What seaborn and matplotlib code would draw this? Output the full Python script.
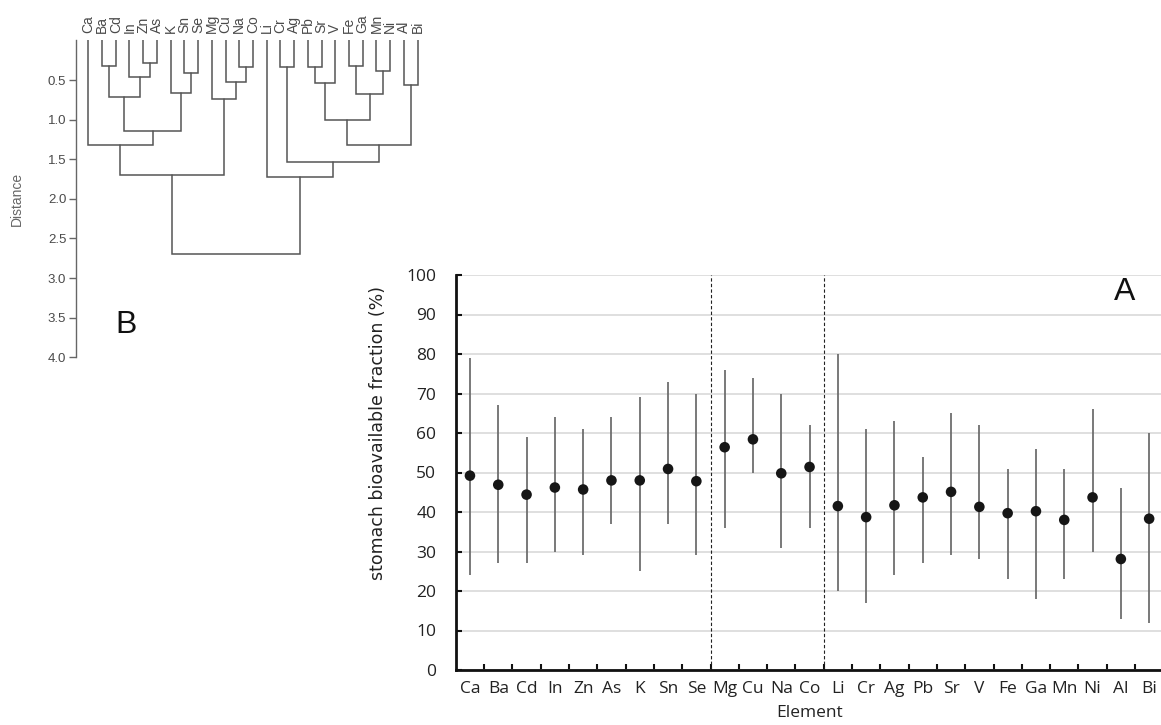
import numpy as np
import pandas as pd
import seaborn as sns
import matplotlib.pyplot as plt
from matplotlib.ticker import FixedLocator

# Panel A data: median and range of stomach bioavailable fraction (%)
elements = ["Ca", "Ba", "Cd", "In", "Zn", "As", "K", "Sn", "Se",
            "Mg", "Cu", "Na", "Co",
            "Li", "Cr", "Ag", "Pb", "Sr", "V", "Fe", "Ga", "Mn", "Ni", "Al", "Bi"]
centre = [49.2, 46.9, 44.4, 46.2, 45.7, 48.0, 48.0, 50.9, 47.8,
          56.4, 58.4, 49.8, 51.4,
          41.5, 38.7, 41.7, 43.7, 45.1, 41.3, 39.7, 40.2, 38.0, 43.7, 28.1, 38.3]
low = [24, 27, 27, 30, 29, 37, 25, 37, 29,
       36, 50, 31, 36,
       20, 17, 24, 27, 29, 28, 23, 18, 23, 30, 13, 12]
high = [79, 67, 59, 64, 61, 64, 69, 73, 70,
        76, 74, 70, 62,
        80, 61, 63, 54, 65, 62, 51, 56, 51, 66, 46, 60]
group_sizes = [9, 4, 12]

# Panel B data: hierarchical clustering (leaf order = elements), merges as
# (left, right, distance); ints refer to earlier merges
merges = [
    ("Ba", "Cd", 0.32),   # 0
    ("Zn", "As", 0.28),   # 1
    ("In", 1, 0.46),      # 2
    (0, 2, 0.71),         # 3
    ("Sn", "Se", 0.41),   # 4
    ("K", 4, 0.66),       # 5
    (3, 5, 1.14),         # 6
    ("Ca", 6, 1.32),      # 7
    ("Na", "Co", 0.34),   # 8
    ("Cu", 8, 0.52),      # 9
    ("Mg", 9, 0.735),     # 10
    (7, 10, 1.70),        # 11
    ("Cr", "Ag", 0.34),   # 12
    ("Pb", "Sr", 0.33),   # 13
    (13, "V", 0.54),      # 14
    ("Fe", "Ga", 0.32),   # 15
    ("Mn", "Ni", 0.39),   # 16
    (15, 16, 0.68),       # 17
    (14, 17, 1.00),       # 18
    ("Al", "Bi", 0.56),   # 19
    (18, 19, 1.32),       # 20
    (12, 20, 1.53),       # 21
    ("Li", 21, 1.73),     # 22
    (11, 22, 2.69),       # 23
]
distance_ticks = [0.5, 1.0, 1.5, 2.0, 2.5, 3.0, 3.5, 4.0]

sns.set_theme(style="white")
plt.rcParams["font.family"] = ["Liberation Sans", "DejaVu Sans"]

W, H = 1161, 725
fig = plt.figure(figsize=(W / 100, H / 100), dpi=100)

# ---------------- Panel A ----------------
ax = fig.add_axes([455.8 / W, 55 / H, 707.5 / W, 395 / H])
df = pd.DataFrame({"Element": elements, "centre": centre, "low": low, "high": high})
pos = np.arange(len(elements))

ax.set_xlim(-0.5, len(elements) - 0.5)
ax.set_ylim(0, 100)
ax.set_yticks(range(0, 101, 10))
ax.yaxis.grid(True, color="#dcdcdc", lw=1.3)
ax.xaxis.grid(False)
ax.set_axisbelow(True)

ax.vlines(pos, df["low"], df["high"], color="#6e6e6e", lw=1.3, zorder=2)
sns.scatterplot(x=pos, y=df["centre"], ax=ax, color="#161616", s=58,
                edgecolor="none", zorder=3, legend=False)

for b in np.cumsum(group_sizes)[:-1] - 0.5:
    ax.axvline(b, ymin=0, ymax=1, color="#222222", lw=0.8, ls=(0, (3, 2)), zorder=1)

ax.set_xticks(pos)
ax.set_xticklabels(elements)
ax.xaxis.set_minor_locator(FixedLocator(pos[:-1] + 0.5))
ax.tick_params(axis="x", which="major", length=0, pad=8, labelsize=12.5,
               labelcolor="#222222")
ax.tick_params(axis="x", which="minor", direction="in", length=4, width=1.5,
               color="#111111", bottom=True)
ax.tick_params(axis="y", direction="in", length=4, width=1.5, color="#111111",
               left=True, pad=14, labelsize=12.5, labelcolor="#222222")
for lab in ax.get_xticklabels() + ax.get_yticklabels():
    lab.set_family(["Open Sans", "DejaVu Sans"])

for s in ["top", "right"]:
    ax.spines[s].set_visible(False)
for s in ["left", "bottom"]:
    ax.spines[s].set_color("#111111")
    ax.spines[s].set_linewidth(2)

ax.set_xlabel("Element", fontsize=12.5, family=["Open Sans", "DejaVu Sans"],
              color="#222222", labelpad=6)
ax.set_ylabel("stomach bioavailable fraction (%)", fontsize=12.5, color="#222222",
              family=["DejaVu Sans"])
ax.yaxis.set_label_coords(-0.097, 0.60)

# ---------------- Panel B ----------------
axb = fig.add_axes([76 / W, (H - 357.3) / H, 348.4 / W, 316.9 / H])
leaf_x = {name: i for i, name in enumerate(elements)}
node_x, node_h = [], []


def coord(ref):
    if isinstance(ref, str):
        return leaf_x[ref], 0.0
    return node_x[ref], node_h[ref]


for left, right, h in merges:
    xl, hl = coord(left)
    xr, hr = coord(right)
    axb.plot([xl, xl, xr, xr], [hl, h, h, hr], color="#555555", lw=1.1,
             solid_joinstyle="miter")
    node_x.append((xl + xr) / 2)
    node_h.append(h)

axb.set_xlim(-0.9, 24.5)
axb.set_ylim(4.0, 0.0)
axb.set_yticks(distance_ticks)
axb.set_yticklabels([f"{t:.1f}" for t in distance_ticks])
axb.xaxis.tick_top()
axb.set_xticks(range(len(elements)))
axb.set_xticklabels(elements, rotation=90)
axb.tick_params(axis="x", top=True, bottom=False, length=0, pad=5,
                labelsize=10, labelcolor="#4a4a4a")
axb.tick_params(axis="y", left=True, direction="out", length=5, width=1,
                color="#666666", pad=2, labelsize=9.5, labelcolor="#4a4a4a")
for s in ["top", "right", "bottom"]:
    axb.spines[s].set_visible(False)
axb.spines["left"].set_color("#666666")
axb.spines["left"].set_linewidth(1)
axb.grid(False)
axb.set_facecolor("none")
axb.set_ylabel("Distance", fontsize=10, color="#666666")
axb.yaxis.set_label_coords(-0.15, 0.5)

fig.text(1125 / W, 1 - 292 / H, "A", fontsize=23, ha="center", va="center",
         color="#111111")
fig.text(126 / W, 1 - 325 / H, "B", fontsize=23, ha="center", va="center",
         color="#111111")

fig.savefig("out.png", dpi=100)
